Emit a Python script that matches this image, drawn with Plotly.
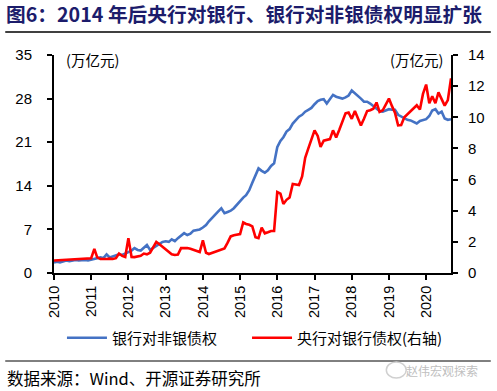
import pandas as pd
import plotly.graph_objects as go

# monthly, 2010-01 .. 2020-09
months = pd.date_range("2010-01-01", periods=129, freq="MS")

bank_to_nonbank = [
    1.7, 1.8, 1.7, 1.9, 2.0, 1.9, 2.0, 2.1, 2.0, 2.1, 2.1, 2.0,
    2.1, 2.3, 2.4, 2.5, 2.4, 3.0, 2.5, 2.7, 2.8, 3.0, 2.9, 3.1,
    3.3, 3.6, 4.0, 3.7, 3.6, 4.0, 4.5, 3.7, 4.0, 4.4, 4.6, 5.0,
    5.1, 5.0, 5.4, 5.1, 5.6, 6.0, 6.4, 6.1, 6.3, 6.8, 6.9, 7.0,
    7.3, 7.7, 8.3, 8.9, 9.4, 9.9, 10.4, 9.6, 9.8, 10.0, 10.4, 11.0,
    11.6, 12.1, 12.5, 13.3, 14.5, 15.8, 16.8, 16.4, 16.1, 16.5, 17.2, 17.6,
    20.2, 21.2, 21.8, 22.7, 23.1, 24.0, 24.6, 25.1, 25.4, 25.9, 26.2, 26.5,
    27.1, 27.6, 27.8, 27.9, 27.2, 28.0, 28.6, 28.3, 28.2, 28.0, 28.2, 28.5,
    29.3, 28.9, 28.4, 28.0, 27.5, 27.5, 27.2, 26.8, 26.4, 26.0, 25.9, 26.1,
    26.3, 26.2, 26.2, 25.4, 25.1, 24.9, 24.6, 24.5, 24.2, 24.0, 24.4, 24.6,
    24.7, 25.2, 26.1, 26.3, 25.6, 25.9, 24.8, 24.6, 24.7,
]

cb_to_bank = [
    0.80, 0.81, 0.82, 0.83, 0.84, 0.85, 0.86, 0.87, 0.88, 0.90, 0.92, 0.93,
    0.95, 1.55, 1.00, 0.90, 0.88, 0.90, 0.92, 0.90, 0.95, 1.25, 1.10, 1.03,
    2.24, 1.03, 1.02, 1.05, 1.10, 1.25, 1.20, 1.30, 1.70, 2.00, 1.85, 1.70,
    1.55, 1.40, 1.20, 1.16, 1.18, 1.60, 1.62, 1.60, 1.55, 1.50, 1.40, 1.35,
    2.10, 1.30, 1.22, 1.30, 1.37, 1.42, 1.50, 1.58, 1.95, 2.35, 2.42, 2.45,
    2.50, 3.25, 3.15, 3.10, 3.00, 2.30, 2.24, 2.92, 2.55, 2.62, 2.70, 2.70,
    5.20, 5.10, 4.43, 4.70, 4.85, 5.72, 5.70, 5.65, 6.20, 7.40, 8.00, 8.60,
    9.16, 8.80, 8.10, 8.50, 8.56, 8.60, 9.16, 8.70, 9.20, 9.70, 10.25, 10.30,
    9.90, 10.40, 10.00, 9.48, 9.90, 10.40, 10.45, 10.55, 10.95, 10.35, 10.45, 10.80,
    11.20, 10.70, 10.30, 9.48, 9.50, 10.00, 10.20, 10.40, 10.60, 10.77, 10.50, 11.50,
    12.10, 10.90, 11.35, 10.90, 11.60, 11.20, 10.75, 11.10, 12.50,
]

year_labels = [str(y) for y in range(2010, 2021)]
year_ticks = [f"{y}-01-01" for y in range(2010, 2021)]
left_ticks = [0, 7, 14, 21, 28, 35]
right_ticks = [0, 2, 4, 6, 8, 10, 12, 14]

W, H = 497, 391
L, R, T, B = 54, 453, 55, 273


def px(x):
    return (x - L) / (R - L)


def py(y):
    return (B - y) / (B - T)


CJK = "Noto Sans CJK SC"
NUM = "Liberation Sans, Arial"

fig = go.Figure()
fig.add_trace(go.Scatter(x=months, y=bank_to_nonbank, mode="lines",
                         name="银行对非银债权", legend="legend",
                         line=dict(color="#4472C4", width=2.6)))
fig.add_trace(go.Scatter(x=months, y=cb_to_bank, mode="lines",
                         name="央行对银行债权(右轴)", yaxis="y2", legend="legend2",
                         line=dict(color="#FF0000", width=2.6)))

axis_common = dict(showgrid=False, zeroline=False, showline=True,
                   linecolor="black", linewidth=2, ticks="outside",
                   ticklen=5, tickwidth=2, tickcolor="black")

legend_common = dict(orientation="h", xanchor="left", y=py(338),
                     yanchor="middle",
                     font=dict(family=CJK, size=15, color="black"),
                     itemwidth=40, bgcolor="rgba(0,0,0,0)")

fig.update_layout(
    width=W, height=H,
    margin=dict(l=L, r=W - R, t=T, b=H - B),
    paper_bgcolor="white", plot_bgcolor="white",
    xaxis=dict(**axis_common, type="date",
               range=[months[0], months[-1]],
               tickmode="array", tickvals=year_ticks, ticktext=year_labels,
               tickangle=-90,
               tickfont=dict(family=NUM, size=14.5, color="black")),
    yaxis=dict(**axis_common, range=[0, 35], tickvals=left_ticks,
               ticklabelstandoff=12,
               tickfont=dict(family=NUM, size=15, color="black")),
    yaxis2=dict(**axis_common, range=[0, 14], tickvals=right_ticks,
                overlaying="y", side="right", ticklabelstandoff=7,
                tickfont=dict(family=NUM, size=15, color="black")),
    showlegend=True,
    legend=dict(**legend_common, x=px(62)),
    legend2=dict(**legend_common, x=px(248)),
)

fig.add_annotation(text="<b>图6：2014 年后央行对银行、银行对非银债权明显扩张</b>",
                   xref="paper", yref="paper", x=px(4), y=py(14),
                   xanchor="left", yanchor="middle", showarrow=False,
                   font=dict(family=CJK, size=19.7, color="#1c1c6b"))
fig.add_shape(type="line", xref="paper", yref="paper",
              x0=px(5), x1=px(493), y0=py(32), y1=py(32),
              line=dict(color="black", width=1.5))
fig.add_annotation(text="(万亿元)", xref="paper", yref="paper",
                   x=px(64), y=py(59), xanchor="left", yanchor="middle",
                   showarrow=False, font=dict(family=CJK, size=14.5, color="black"))
fig.add_annotation(text="(万亿元)", xref="paper", yref="paper",
                   x=px(447), y=py(59), xanchor="right", yanchor="middle",
                   showarrow=False, font=dict(family=CJK, size=14.5, color="black"))
fig.add_shape(type="line", xref="paper", yref="paper",
              x0=px(5), x1=px(493), y0=py(361), y1=py(361),
              line=dict(color="black", width=1))
fig.add_annotation(text="数据来源：Wind、开源证券研究所",
                   xref="paper", yref="paper", x=px(5), y=py(378),
                   xanchor="left", yanchor="middle", showarrow=False,
                   font=dict(family=CJK, size=16.5, color="black"))
fig.add_shape(type="circle", xref="paper", yref="paper",
              x0=px(388), x1=px(408), y0=py(378), y1=py(362),
              line=dict(color="#d0d0d0", width=1.5))
fig.add_annotation(text="赵伟宏观探索",
                   xref="paper", yref="paper", x=px(482), y=py(370),
                   xanchor="right", yanchor="middle", showarrow=False,
                   font=dict(family=CJK, size=12, color="#c0c0c0"))

fig.write_html("out.html", config={"displayModeBar": False},
               post_script="document.body.style.margin='0';")
